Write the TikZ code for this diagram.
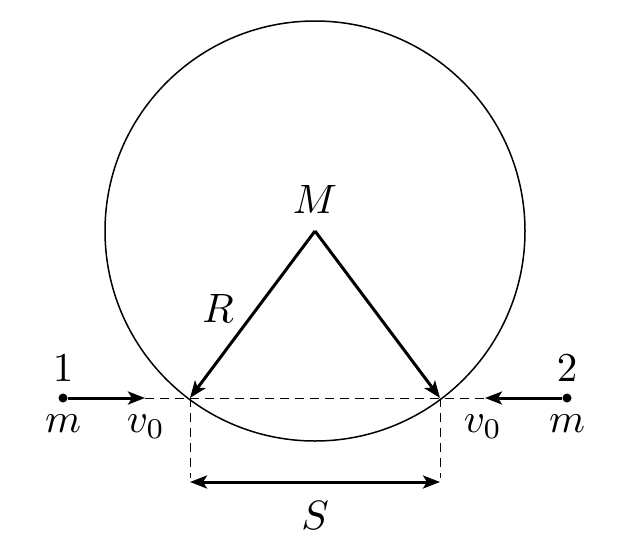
\documentclass[tikz,border=0pt]{standalone}
\usetikzlibrary{arrows.meta}
\newcommand{\biglabel}[1]{\scalebox{4.1}{$#1$}}
\begin{document}
\begin{tikzpicture}[x=1pt,y=-1pt,
  lbl/.style={inner sep=0pt},
  thickarrow/.style={line width=3pt,-{Stealth[length=17pt,width=13pt,inset=4pt]}},
  dimarrow/.style={line width=3pt,{Stealth[length=17pt,width=13pt,inset=4pt]}-{Stealth[length=17pt,width=13pt,inset=4pt]}},
  dashline/.style={line width=0.9pt,dash pattern=on 9pt off 6pt},
  dot/.style={circle,fill,inner sep=0pt,minimum size=9pt}]
\useasboundingbox (0,0) rectangle (634,546);
\coordinate (M) at (315,231);
\draw[line width=1.5pt] (M) circle[radius=210];
\coordinate (A) at (190,398);
\coordinate (B) at (440,398);
\node[dot] (p1) at (63,398) {};
\node[dot] (p2) at (567,398) {};
\coordinate (e1) at (145,398);
\coordinate (e2) at (485,398);
\coordinate (A2) at (190,478);
\coordinate (B2) at (440,478);
\coordinate (S1) at (190,482);
\coordinate (S2) at (440,482);
\draw[dashline] (e1) -- (e2);
\draw[dashline] (A) -- (A2);
\draw[dashline] (B) -- (B2);
\draw[thickarrow] (p1) -- (e1);
\draw[thickarrow] (p2) -- (e2);
\draw[thickarrow] (M) -- (A);
\draw[thickarrow] (M) -- (B);
\draw[dimarrow] (S1) -- (S2);
\node[lbl] (l1) at (63,368) {\biglabel{1}};
\node[lbl] (l2) at (567,368) {\biglabel{2}};
\node[lbl] (m1) at (63,424) {\biglabel{m}};
\node[lbl] (m2) at (567,424) {\biglabel{m}};
\node[lbl] (v1) at (146,427) {\biglabel{v_0}};
\node[lbl] (v2) at (483,427) {\biglabel{v_0}};
\node[lbl] (lM) at (315,199) {\biglabel{M}};
\node[lbl] (lR) at (218,308) {\biglabel{R}};
\node[lbl] (lS) at (315,515) {\biglabel{S}};
\end{tikzpicture}
\end{document}
